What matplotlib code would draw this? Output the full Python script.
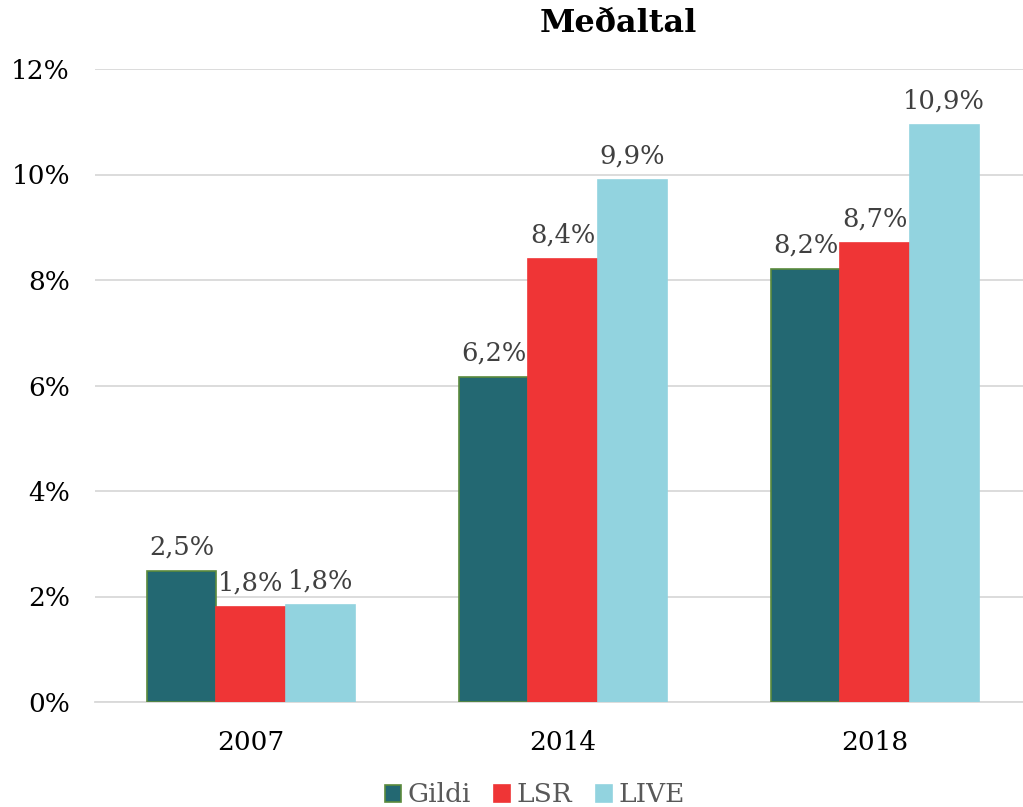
import numpy as np
import matplotlib.pyplot as plt

# Gögn lesin af myndinni
years = ["2007", "2014", "2018"]
gildi = [2.48, 6.16, 8.21]
lsr = [1.80, 8.40, 8.70]
live = [1.84, 9.90, 10.94]
series_names = ["Gildi", "LSR", "LIVE"]
colors = ["#236872", "#EF3536", "#92D3DF"]
edges = ["#5B8A3C", "#EF3536", "#92D3DF"]

plt.rcParams['font.family'] = ['DejaVu Serif']

fig = plt.figure(figsize=(10.23, 8.07), dpi=100)
ax = fig.add_axes([95 / 1023, 105 / 807, 936 / 1023, 633 / 807])

x = np.arange(len(years))
w = 0.222
for i, (vals, name) in enumerate(zip([gildi, lsr, live], series_names)):
    pos = x + (i - 1) * w
    ax.bar(pos, vals, width=w, color=colors[i], edgecolor=edges[i],
           linewidth=1.2, label=name, zorder=3)
    for px, v in zip(pos, vals):
        lbl = f"{v:.1f}%".replace(".", ",")
        ax.text(px, v + 0.22, lbl, ha="center", va="bottom",
                fontsize=18.5, color="#404040")

ax.set_xlim(-0.5, 2.5)
ax.set_ylim(0, 12)
ax.set_yticks(range(0, 13, 2))
ax.set_yticklabels([f"{t}%" for t in range(0, 13, 2)], fontsize=19)
ax.set_xticks(x)
ax.set_xticklabels(years, fontsize=19)
ax.tick_params(length=0)
ax.tick_params(axis="x", pad=20)
ax.tick_params(axis="y", pad=18)
ax.grid(axis="y", color="#D9D9D9", linewidth=1.3, zorder=0)
for s in ["top", "right", "left"]:
    ax.spines[s].set_visible(False)
ax.spines["bottom"].set_color("#D9D9D9")
ax.spines["bottom"].set_linewidth(1.3)

fig.text(618 / 1023, 1 - 24 / 807, "Meðaltal", ha="center", va="center",
         fontsize=23, fontweight="bold")

fig.legend(loc="center", bbox_to_anchor=(535 / 1023, 1 - 795 / 807), ncol=3,
           frameon=False, fontsize=19, handlelength=0.6, handleheight=0.6,
           handletextpad=0.25, columnspacing=0.9, labelcolor="#595959")

fig.savefig("out.png", dpi=100)
